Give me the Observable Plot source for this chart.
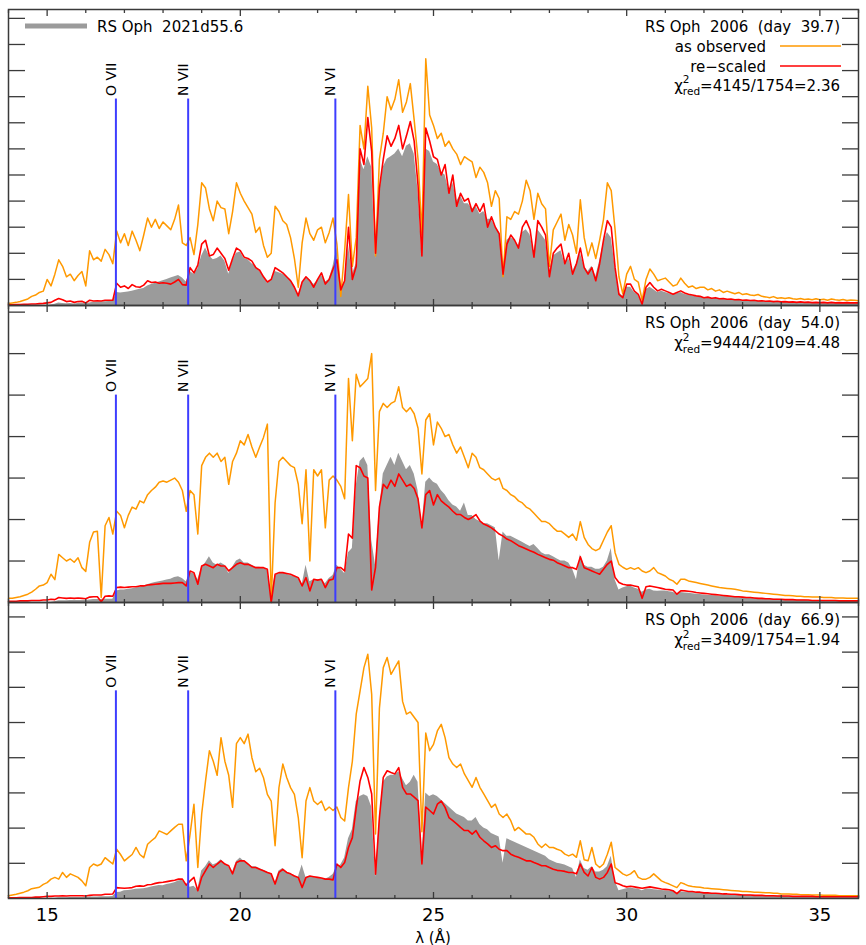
<!DOCTYPE html>
<html><head><meta charset="utf-8">
<script src="https://cdn.jsdelivr.net/npm/d3@7"></script>
<script src="https://cdn.jsdelivr.net/npm/@observablehq/plot@0.6"></script>
<style>
body{margin:0;background:#fff;overflow:hidden;}
#chart{width:866px;}
#chart svg{display:block;}
</style></head><body><div id="chart"></div>
<script>
// wavelength grid: 14.0 ... 36.0 Å in 0.1 Å steps
const lamStart = 14, lamStep = 0.1;
const edgeNames = ["O VII", "N VII", "N VI"];
const edgeLam = [16.78, 18.65, 22.46];
const majorTicks = [15, 20, 25, 30, 35];
const minorTicks = [14,16,17,18,19,21,22,23,24,26,27,28,29,31,32,33,34,36];

// Panel 1: day 39.7
const obs1 = [
0.08,0.1,0.12,0.15,0.2,0.25,0.35,0.4,0.5,0.55,
1.0,0.75,1.2,1.75,1.5,1.1,1.2,0.95,1.15,1.3,
0.75,2.1,1.75,1.85,1.7,2.15,1.95,1.6,2.85,2.4,
2.75,2.3,2.85,2.5,2.1,2.7,3.35,3.0,3.3,2.95,
3.2,3.05,2.9,3.3,3.85,2.4,2.3,2.6,1.95,3.1,
4.7,4.5,3.7,3.25,4.0,3.75,3.7,2.75,3.6,4.7,
4.3,4.0,3.75,3.5,2.8,3.0,2.3,1.85,2.0,3.8,
3.6,3.25,3.1,2.6,1.8,0.7,2.4,3.35,2.75,2.5,
2.9,3.0,2.4,2.8,3.35,2.35,0.35,2.1,4.25,1.5,
2.6,6.9,6.0,8.4,6.8,1.9,5.6,6.6,8.0,7.5,
7.9,8.65,7.4,7.8,8.5,7.1,5.6,2.7,9.45,7.3,
6.9,6.4,6.6,6.1,6.3,6.0,5.8,5.4,5.7,5.6,
5.5,4.9,5.3,5.1,4.7,3.8,4.4,4.1,1.1,3.4,
3.3,3.6,3.5,4.0,4.8,4.4,3.3,4.3,3.9,3.7,
1.5,2.9,3.2,3.5,2.5,3.1,2.7,2.0,4.05,2.6,
1.9,2.4,1.8,2.5,3.3,4.7,4.4,2.9,1.1,0.45,
1.2,1.5,1.0,0.9,0.2,1.0,1.4,1.2,0.95,1.0,
1.05,0.9,0.75,0.8,1.05,0.85,0.7,0.75,0.65,0.7,
0.7,0.6,0.65,0.55,0.6,0.5,0.55,0.5,0.45,0.5,
0.42,0.45,0.4,0.38,0.42,0.35,0.33,0.3,0.34,0.28,
0.3,0.27,0.3,0.26,0.24,0.27,0.23,0.25,0.22,0.26,
0.22,0.24,0.2,0.25,0.22,0.2,0.23,0.19,0.21,0.2,
0.18];
const res1 = [
0.03,0.03,0.04,0.04,0.05,0.05,0.06,0.06,0.07,0.08,
0.1,0.12,0.2,0.27,0.22,0.15,0.17,0.12,0.15,0.16,
0.1,0.2,0.17,0.18,0.17,0.2,0.2,0.2,0.85,0.7,
0.75,0.65,0.8,0.72,0.7,0.78,0.95,0.88,0.9,0.85,
0.87,0.85,0.82,0.9,1.0,0.8,0.78,1.45,1.25,1.55,
2.35,2.5,1.9,1.95,2.2,2.0,1.8,1.35,1.8,2.2,
2.1,1.85,1.8,1.7,1.45,1.35,1.1,0.9,1.0,1.45,
1.35,1.25,1.1,0.95,0.7,0.37,0.9,1.1,0.95,0.7,
1.0,1.25,0.82,1.0,1.4,1.75,0.6,0.95,3.0,1.0,
1.5,6.0,5.4,7.2,5.9,2.0,4.5,5.6,6.5,6.1,
6.4,6.9,6.0,6.5,7.05,6.3,4.6,1.9,6.8,6.3,
5.7,5.6,5.0,5.4,4.3,5.0,3.8,4.3,4.0,4.1,
3.6,3.9,3.6,3.9,3.0,3.4,3.0,2.75,1.2,2.35,
2.7,2.5,2.2,3.0,3.25,2.9,1.85,3.25,3.0,2.7,
1.1,2.0,2.2,2.35,1.6,2.0,1.2,1.6,2.2,1.45,
1.2,1.45,0.95,1.6,2.5,3.25,3.0,1.45,0.43,0.3,
0.82,0.82,0.55,0.43,0.05,0.7,0.88,0.7,0.56,0.62,
0.56,0.5,0.43,0.5,0.56,0.48,0.43,0.4,0.37,0.35,
0.3,0.32,0.28,0.3,0.26,0.27,0.24,0.25,0.22,0.23,
0.2,0.21,0.19,0.2,0.17,0.18,0.16,0.17,0.15,0.16,
0.14,0.15,0.13,0.14,0.12,0.14,0.12,0.13,0.11,0.12,
0.11,0.12,0.1,0.12,0.1,0.11,0.1,0.11,0.1,0.1,
0.1];
const ref1 = [
0,0,0,0,0,0,0,0,0,0,
0,0.02,0.05,0.1,0.08,0.07,0.08,0.06,0.08,0.1,
0.08,0.1,0.12,0.12,0.13,0.14,0.15,0.15,0.5,0.48,
0.5,0.52,0.55,0.58,0.62,0.65,0.75,0.8,0.85,0.9,
0.95,1.0,1.05,1.1,1.15,1.05,0.9,1.3,1.2,1.4,
1.9,2.2,1.9,1.75,1.8,1.9,1.7,1.2,1.7,2.0,
2.05,1.8,1.75,1.6,1.5,1.3,1.15,0.85,1.0,1.3,
1.25,1.2,1.1,1.0,0.75,0.4,0.85,1.05,1.0,0.8,
0.95,1.15,0.9,1.0,1.5,2.2,0.7,0.9,2.3,1.2,
1.6,5.6,5.2,5.7,5.3,1.8,4.3,5.3,5.6,5.7,
5.8,6.0,5.7,6.1,6.2,5.8,4.4,1.9,6.0,5.9,
5.5,5.4,5.1,5.0,4.4,4.7,4.0,4.2,3.9,3.9,
3.7,3.8,3.5,3.6,3.3,3.3,3.0,2.8,1.4,2.5,
2.6,2.5,2.3,2.8,2.9,2.7,2.0,2.9,2.7,2.5,
1.3,1.9,2.0,2.1,1.6,1.8,1.3,1.6,2.0,1.5,
1.3,1.5,1.1,1.7,2.4,2.8,2.6,1.5,0.5,0.35,
0.7,0.7,0.5,0.4,0.1,0.6,0.7,0.6,0.5,0.55,
0.5,0.45,0.4,0.45,0.5,0.42,0.4,0.37,0.34,0.32,
0.3,0.29,0.27,0.28,0.25,0.25,0.23,0.23,0.21,0.21,
0.19,0.2,0.18,0.18,0.16,0.17,0.15,0.16,0.14,0.15,
0.13,0.14,0.12,0.13,0.12,0.12,0.11,0.12,0.1,0.11,
0.1,0.11,0.1,0.1,0.09,0.1,0.09,0.1,0.09,0.09,
0.09];

// Panel 2: day 54.0
const obs2 = [
0.1,0.1,0.12,0.14,0.17,0.2,0.25,0.32,0.4,0.42,
0.48,0.68,0.55,1.16,1.08,1.0,1.05,0.97,1.08,0.84,
0.75,1.45,1.7,1.72,0.12,1.85,2.05,1.65,2.2,2.1,
1.8,2.1,2.3,2.25,2.45,2.4,2.6,2.7,2.78,2.9,
2.93,2.9,2.95,3.0,2.9,2.7,2.2,2.7,2.6,1.65,
3.3,3.5,3.6,3.5,3.6,3.4,3.5,2.85,3.4,3.6,
3.9,3.8,4.05,3.75,3.5,3.75,3.98,4.3,0.04,2.4,
3.4,3.5,3.4,3.3,3.25,2.85,1.9,3.2,1.0,3.2,
3.05,3.2,1.8,2.95,3.05,2.95,2.8,2.5,5.4,3.9,
5.5,5.2,5.3,5.4,6.0,2.7,4.6,4.8,4.7,4.8,
4.85,5.2,4.7,4.6,4.7,4.55,4.2,3.1,4.4,4.55,
3.8,4.35,4.2,4.0,4.05,3.8,3.6,3.75,3.5,3.25,
3.6,3.5,3.25,3.2,3.1,3.0,2.95,3.0,2.75,2.7,
2.6,2.55,2.45,2.4,2.3,2.25,2.15,2.05,1.95,1.95,
1.9,1.8,1.72,1.72,1.65,1.57,1.65,1.5,1.95,1.57,
1.4,1.3,1.25,1.3,1.5,1.7,1.85,1.2,0.92,0.85,
0.8,0.84,0.8,0.84,0.76,0.72,0.76,0.84,0.72,0.68,
0.64,0.56,0.52,0.44,0.56,0.56,0.52,0.5,0.48,0.46,
0.44,0.42,0.4,0.38,0.36,0.35,0.34,0.33,0.32,0.3,
0.28,0.27,0.26,0.25,0.24,0.23,0.22,0.21,0.2,0.19,
0.18,0.17,0.17,0.16,0.15,0.15,0.14,0.14,0.13,0.13,
0.13,0.12,0.12,0.12,0.11,0.11,0.11,0.1,0.1,0.1,
0.1];
const res2 = [
0.03,0.03,0.03,0.04,0.04,0.04,0.05,0.05,0.05,0.06,
0.06,0.08,0.07,0.12,0.11,0.1,0.11,0.1,0.11,0.1,
0.09,0.13,0.14,0.14,0.02,0.15,0.16,0.15,0.36,0.37,
0.36,0.37,0.38,0.38,0.4,0.4,0.42,0.43,0.44,0.45,
0.46,0.46,0.46,0.47,0.48,0.48,0.4,0.76,0.72,0.44,
0.88,0.92,0.88,0.84,0.92,0.88,0.88,0.76,0.84,0.92,
0.96,0.92,0.92,0.88,0.84,0.84,0.84,0.8,0.0,0.68,
0.72,0.72,0.7,0.68,0.64,0.6,0.4,0.6,0.28,0.56,
0.54,0.56,0.36,0.54,0.56,0.84,0.84,0.76,1.65,1.55,
3.3,3.25,3.05,3.0,0.3,0.85,2.3,2.85,2.75,2.95,
2.8,3.1,2.95,2.8,2.85,2.75,2.5,1.8,2.6,2.7,
2.35,2.6,2.45,2.37,2.3,2.2,2.12,2.12,2.05,2.0,
2.05,2.12,1.97,1.89,1.85,1.8,1.73,1.65,1.6,1.53,
1.49,1.43,1.37,1.33,1.29,1.25,1.21,1.16,1.12,1.08,
1.04,1.02,0.96,0.92,0.88,0.84,0.84,0.8,1.1,0.84,
0.8,0.76,0.72,0.68,0.8,0.92,1.0,0.6,0.48,0.44,
0.42,0.42,0.4,0.38,0.1,0.38,0.4,0.38,0.36,0.34,
0.32,0.31,0.3,0.2,0.28,0.28,0.27,0.26,0.24,0.23,
0.22,0.21,0.2,0.19,0.18,0.17,0.16,0.15,0.14,0.14,
0.13,0.12,0.12,0.11,0.1,0.1,0.09,0.09,0.08,0.08,
0.08,0.07,0.07,0.07,0.06,0.06,0.06,0.06,0.05,0.05,
0.05,0.05,0.05,0.05,0.05,0.04,0.04,0.04,0.04,0.04,
0.04];
const ref2 = [
0,0,0,0,0,0,0,0,0,0,
0,0,0.02,0.04,0.04,0.04,0.05,0.05,0.05,0.05,
0.05,0.06,0.07,0.07,0.07,0.08,0.08,0.08,0.28,0.3,
0.3,0.32,0.33,0.35,0.37,0.4,0.43,0.46,0.48,0.5,
0.52,0.54,0.56,0.6,0.62,0.58,0.5,0.72,0.7,0.55,
0.85,0.95,1.1,0.95,0.9,0.95,0.9,0.7,0.85,1.0,
1.05,0.95,0.95,0.9,0.85,0.85,0.82,0.78,0.2,0.65,
0.7,0.72,0.68,0.65,0.62,0.6,0.42,0.9,0.5,0.55,
0.55,0.56,0.45,0.58,0.65,0.9,0.8,0.7,1.2,1.3,
2.8,3.4,3.5,3.3,1.5,0.9,2.2,3.1,3.3,3.5,
3.3,3.6,3.4,3.2,3.3,3.1,2.7,1.8,2.9,3.0,
2.9,2.85,2.7,2.6,2.45,2.35,2.3,2.2,2.4,2.1,
2.1,2.0,1.95,1.9,1.9,1.85,1.8,1.0,1.7,1.6,
1.6,1.55,1.5,1.45,1.4,1.35,1.4,1.3,1.2,1.15,
1.15,1.1,1.05,1.0,1.0,0.95,0.8,0.55,1.15,0.9,
0.85,0.85,0.8,0.8,0.85,1.0,1.3,0.55,0.3,0.35,
0.38,0.4,0.35,0.32,0.25,0.3,0.32,0.28,0.27,0.28,
0.28,0.26,0.25,0.2,0.24,0.23,0.22,0.21,0.2,0.19,
0.18,0.17,0.17,0.16,0.15,0.15,0.14,0.13,0.13,0.12,
0.12,0.11,0.11,0.1,0.1,0.09,0.09,0.08,0.08,0.08,
0.07,0.07,0.07,0.06,0.06,0.06,0.06,0.05,0.05,0.05,
0.05,0.05,0.04,0.04,0.04,0.04,0.04,0.04,0.03,0.03,
0.03];

// Panel 3: day 66.9
const obs3 = [
0.08,0.1,0.12,0.15,0.18,0.22,0.28,0.3,0.32,0.4,
0.45,0.55,0.6,0.55,0.74,0.6,0.7,0.65,0.6,0.5,
0.36,0.88,0.98,0.93,0.98,1.16,1.07,0.98,1.4,1.25,
1.07,1.16,1.25,1.45,1.25,1.16,1.54,1.64,1.73,1.92,
1.87,1.82,1.92,2.02,2.11,2.11,1.07,1.83,2.68,0.88,
2.4,3.34,4.2,3.9,3.5,4.57,3.9,3.5,2.59,4.4,
4.57,4.4,4.67,4.0,3.6,3.7,3.43,2.96,2.77,1.5,
3.15,3.82,3.44,3.15,2.96,2.3,1.16,2.77,3.15,2.77,
2.67,2.77,2.5,2.6,2.5,2.6,2.3,2.2,3.15,3.9,
5.24,5.9,6.56,6.94,5.8,1.83,5.4,6.56,6.85,6.37,
6.56,6.75,5.6,5.24,5.3,5.15,5.0,1.9,4.7,4.2,
4.38,4.76,4.95,4.57,4.0,3.82,3.72,3.82,3.54,3.35,
3.16,3.44,3.16,2.97,2.78,2.59,2.68,2.4,2.3,2.4,
2.21,1.93,2.02,1.93,1.83,1.83,1.74,1.55,1.45,1.55,
1.45,1.45,1.4,1.36,1.26,1.21,1.26,1.17,1.64,1.1,
1.07,1.45,0.98,0.88,0.98,1.26,1.6,0.88,0.79,0.7,
0.65,0.7,0.79,0.6,0.55,0.55,0.6,0.7,0.6,0.5,
0.45,0.41,0.36,0.31,0.45,0.41,0.36,0.34,0.33,0.32,
0.3,0.29,0.28,0.27,0.26,0.25,0.24,0.23,0.22,0.21,
0.2,0.2,0.19,0.18,0.18,0.17,0.16,0.16,0.15,0.15,
0.13,0.13,0.13,0.12,0.12,0.11,0.11,0.11,0.1,0.1,
0.1,0.09,0.09,0.09,0.09,0.08,0.08,0.08,0.08,0.08,
0.08];
const res3 = [
0.02,0.02,0.02,0.03,0.03,0.03,0.03,0.04,0.04,0.05,
0.06,0.06,0.07,0.07,0.08,0.07,0.08,0.08,0.08,0.08,
0.07,0.09,0.1,0.1,0.1,0.12,0.12,0.13,0.31,0.3,
0.29,0.3,0.31,0.35,0.36,0.35,0.39,0.4,0.43,0.45,
0.46,0.48,0.5,0.52,0.55,0.55,0.38,0.5,0.6,0.22,
0.6,0.79,0.98,0.88,0.98,1.07,0.98,0.93,0.7,1.02,
1.07,1.07,0.98,0.88,0.88,0.83,0.79,0.74,0.7,0.41,
0.74,0.83,0.74,0.7,0.64,0.6,0.31,0.6,0.64,0.62,
0.6,0.58,0.55,0.55,0.53,0.98,0.88,1.02,1.45,1.73,
2.58,3.34,3.72,3.44,2.97,0.69,2.3,3.44,3.63,3.58,
3.54,3.72,3.16,2.97,2.97,2.88,2.78,0.98,2.6,2.5,
2.4,2.68,2.77,2.59,2.3,2.21,2.12,2.02,1.93,1.93,
1.83,1.93,1.74,1.64,1.55,1.45,1.5,1.4,1.36,1.36,
1.26,1.21,1.17,1.12,1.07,1.07,1.02,0.98,0.93,0.93,
0.88,0.83,0.8,0.79,0.77,0.74,0.74,0.7,0.98,0.74,
0.64,0.88,0.6,0.55,0.6,0.74,0.98,0.45,0.41,0.36,
0.33,0.35,0.33,0.31,0.29,0.31,0.33,0.31,0.29,0.27,
0.26,0.25,0.22,0.14,0.24,0.22,0.2,0.2,0.18,0.18,
0.16,0.16,0.15,0.15,0.14,0.13,0.13,0.12,0.12,0.11,
0.1,0.1,0.1,0.09,0.09,0.09,0.08,0.08,0.08,0.07,
0.07,0.07,0.07,0.06,0.06,0.06,0.06,0.06,0.06,0.05,
0.05,0.05,0.05,0.05,0.05,0.05,0.05,0.05,0.05,0.05,
0.05];
const ref3 = [
0,0,0,0,0,0,0,0,0,0,
0,0,0.01,0.02,0.02,0.02,0.03,0.03,0.03,0.03,
0.03,0.04,0.04,0.04,0.05,0.05,0.05,0.06,0.17,0.18,
0.22,0.23,0.24,0.26,0.27,0.28,0.3,0.33,0.35,0.37,
0.36,0.4,0.42,0.45,0.5,0.52,0.4,0.32,0.35,0.25,
0.78,0.9,1.07,0.95,1.0,1.1,1.0,0.9,0.75,1.05,
1.15,1.05,1.0,0.9,0.9,0.85,0.8,0.75,0.7,0.45,
0.78,0.85,0.75,0.7,0.65,0.6,0.95,0.6,0.62,0.6,
0.58,0.57,0.55,0.6,0.68,0.9,0.95,1.15,1.7,1.95,
2.75,2.9,2.95,2.9,2.6,0.6,2.2,3.3,3.45,3.5,
3.5,3.6,3.4,3.2,3.3,3.5,3.3,1.2,3.0,2.9,
2.95,2.9,2.8,2.7,2.6,2.5,2.4,2.35,2.3,2.2,
2.2,2.3,2.1,2.0,1.95,1.85,1.8,1.75,1.0,1.7,
1.65,1.6,1.55,1.5,1.45,1.4,1.35,1.3,1.25,1.2,
1.1,1.05,1.0,0.98,0.95,0.9,0.85,0.6,1.1,0.85,
0.8,0.9,0.75,0.75,0.8,0.9,1.2,0.5,0.22,0.25,
0.28,0.3,0.28,0.27,0.22,0.26,0.27,0.25,0.24,0.23,
0.22,0.21,0.2,0.15,0.19,0.18,0.17,0.17,0.16,0.15,
0.14,0.14,0.13,0.13,0.12,0.12,0.11,0.11,0.1,0.1,
0.1,0.09,0.09,0.09,0.08,0.08,0.08,0.07,0.07,0.07,
0.07,0.06,0.06,0.06,0.06,0.05,0.05,0.05,0.05,0.05,
0.05,0.04,0.04,0.04,0.04,0.04,0.04,0.04,0.04,0.04,
0.04];

const panelTitles = ["RS Oph  2006  (day  39.7)", "RS Oph  2006  (day  54.0)", "RS Oph  2006  (day  66.9)"];
const chiTexts = ["=4145/1754=2.36", "=9444/2109=4.48", "=3409/1754=1.94"];
const yMax = [11.34, 7.16, 8.41];
const yTicks = [[1,2,3,4,5,6,7,8,9,10,11], [1,2,3,4,5,6,7], [1,2,3,4,5,6,7,8]];
const edgeTop = [7.91, 5.0, 5.9];
const refLabel = "RS Oph  2021d55.6";
const legendLabels = ["as observed", "re\u2212scaled"];
const xLabel = "\u03bb (\u00c5)";

const ORANGE = "#ff9900", RED = "#ff0000", GRAY = "#9b9b9b", BLUE = "#3d3dff", AXIS = "#3a3a3a";
const FONT = "DejaVu Sans, Liberation Sans, sans-serif";

const series = [[obs1, res1, ref1], [obs2, res2, ref2], [obs3, res3, ref3]];
const layout = [
  {height: 305, mt: 9, mb: 0},
  {height: 297, mt: 0, mb: 0},
  {height: 343, mt: 0, mb: 47}
];

const chart = document.getElementById("chart");

series.forEach(([obs, res, ref], p) => {
  const rows = obs.map((v, k) => ({lam: +(lamStart + k * lamStep).toFixed(2), obs: v, res: res[k], ref: ref[k]}));
  const edges = edgeNames.map((n, k) => ({name: n, lam: edgeLam[k], top: edgeTop[p]}));
  const L = layout[p];
  const last = p === 2;
  const axOpts = {fill: "none", stroke: AXIS, strokeWidth: 1.3, label: null};
  const marks = [
    Plot.areaY(rows, {x: "lam", y: "ref", fill: GRAY}),
    Plot.lineY(rows, {x: "lam", y: "obs", stroke: ORANGE, strokeWidth: 1.5}),
    Plot.lineY(rows, {x: "lam", y: "res", stroke: RED, strokeWidth: 1.6}),
    Plot.ruleX(edges, {x: "lam", y1: 0, y2: "top", stroke: BLUE, strokeWidth: 2}),
    Plot.text(edges, {x: "lam", y: "top", text: "name", rotate: -90, textAnchor: "start", lineAnchor: "bottom", dx: 0, dy: -3, fontSize: 14, fill: "black"}),
    Plot.axisY(yTicks[p], {...axOpts, anchor: "left", tickSize: 17, insetLeft: 17}),
    Plot.axisY(yTicks[p], {...axOpts, anchor: "right", tickSize: 17, insetRight: 17}),
    Plot.axisX(majorTicks, {...axOpts, anchor: "top", tickSize: 6, insetTop: 6}),
    Plot.axisX(minorTicks, {...axOpts, anchor: "top", tickSize: 3, insetTop: 3}),
    Plot.axisX(majorTicks, {...axOpts, anchor: "bottom", tickSize: 6, insetBottom: 6}),
    Plot.axisX(minorTicks, {...axOpts, anchor: "bottom", tickSize: 3, insetBottom: 3}),
    Plot.frame({stroke: AXIS, strokeWidth: 1.5})
  ];
  if (last) marks.push(Plot.axisX(majorTicks, {anchor: "bottom", tickSize: 0, tickPadding: 10, fontSize: 18, fill: "black", label: null}));
  const svg = Plot.plot({
    width: 866, height: L.height,
    marginLeft: 8, marginRight: 8, marginTop: L.mt, marginBottom: L.mb,
    x: {domain: [14, 36], axis: null, label: null},
    y: {domain: [0, yMax[p]], axis: null, label: null},
    style: {fontFamily: FONT, background: "white", overflow: "visible"},
    marks
  });
  chart.appendChild(svg);

  const g = d3.select(svg).append("g").attr("font-family", FONT).attr("fill", "black");
  const txt = (x, y, s, anchor, size = 15) =>
    g.append("text").attr("x", x).attr("y", y).attr("text-anchor", anchor)
      .attr("font-size", size).style("white-space", "pre").text(s);

  const y0 = p === 0 ? 31.5 : 23.3;
  txt(840, y0, panelTitles[p], "end");
  let chiY = y0 + 20;
  if (p === 0) {
    g.append("line").attr("x1", 25).attr("x2", 87).attr("y1", 26).attr("y2", 26)
      .attr("stroke", GRAY).attr("stroke-width", 5);
    txt(97, 31.5, refLabel, "start");
    txt(766, 51.5, legendLabels[0], "end");
    g.append("line").attr("x1", 780).attr("x2", 841).attr("y1", 46).attr("y2", 46)
      .attr("stroke", ORANGE).attr("stroke-width", 1.5);
    txt(766, 71.5, legendLabels[1], "end");
    g.append("line").attr("x1", 780).attr("x2", 841).attr("y1", 66).attr("y2", 66)
      .attr("stroke", RED).attr("stroke-width", 1.5);
    chiY = 90.7;
  }
  const t = g.append("text").attr("x", 840).attr("y", chiY).attr("text-anchor", "end").attr("font-size", 15);
  t.append("tspan").text("\u03c7");
  t.append("tspan").attr("dy", -7.5).attr("font-size", 10.5).text("2");
  t.append("tspan").attr("dx", -6.7).attr("dy", 12).attr("font-size", 10.5).text("red");
  t.append("tspan").attr("dy", -4.5).text(chiTexts[p]);

  if (last) {
    // axis title, in this panel's own coordinates (panel 3 starts at page y = 602)
    txt(433, 340.5, xLabel, "middle", 15);
  }
});
</script>
</body></html>
